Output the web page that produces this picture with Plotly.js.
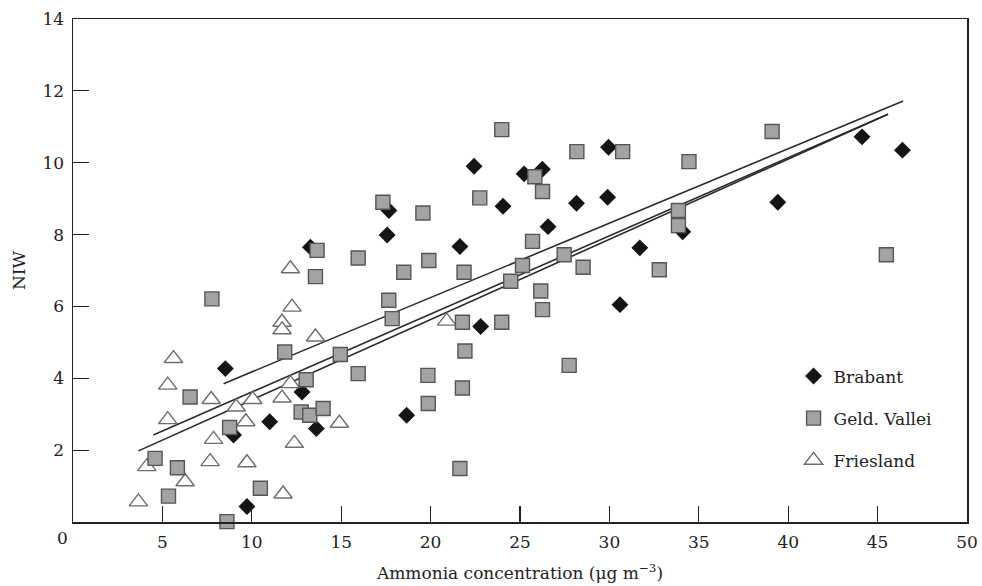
<!DOCTYPE html>
<html>
<head>
<meta charset="utf-8">
<script src="https://cdn.plot.ly/plotly-3.0.1.min.js"></script>
<style>html,body{margin:0;padding:0;background:#fff;}#chart{width:982px;height:586px;}</style>
</head>
<body>
<div id="chart"></div>
<script>
// Brabant
var brabantX = [8.52, 8.98, 9.73, 11.0, 12.81, 13.28, 13.61, 17.57, 17.67, 18.66, 21.64, 22.43, 22.8, 24.05, 25.23, 26.25, 26.57, 28.16, 29.9, 29.95, 30.59, 31.7, 34.1, 39.42, 44.13, 46.39];
var brabantY = [4.27, 2.42, 0.43, 2.79, 3.62, 7.65, 2.6, 7.99, 8.67, 2.97, 7.67, 9.9, 5.44, 8.79, 9.69, 9.82, 8.22, 8.87, 9.04, 10.43, 6.05, 7.63, 8.08, 8.9, 10.72, 10.35];
// Geld. Vallei
var geldX = [4.59, 5.34, 5.84, 6.55, 7.77, 8.61, 8.76, 10.48, 11.84, 12.76, 13.04, 13.24, 13.99, 13.65, 13.56, 14.95, 15.95, 15.95, 17.33, 17.66, 17.85, 18.5, 19.57, 19.9, 19.85, 19.87, 21.64, 21.78, 21.78, 21.87, 21.92, 22.75, 23.98, 23.98, 24.48, 25.14, 25.7, 25.83, 26.26, 26.16, 26.26, 27.47, 27.75, 28.18, 28.53, 30.74, 32.79, 33.86, 33.86, 34.45, 39.1, 45.49];
var geldY = [1.77, 0.72, 1.51, 3.48, 6.21, 0.01, 2.63, 0.94, 4.73, 3.06, 3.96, 2.97, 3.16, 7.56, 6.83, 4.66, 4.13, 7.35, 8.9, 6.17, 5.66, 6.95, 8.6, 7.28, 4.08, 3.3, 1.49, 5.56, 3.73, 6.95, 4.76, 9.02, 10.92, 5.56, 6.7, 7.14, 7.81, 9.61, 9.2, 6.43, 5.91, 7.44, 4.36, 10.31, 7.09, 10.31, 7.02, 8.67, 8.25, 10.03, 10.87, 7.44];
// Friesland
var frieslandX = [3.66, 4.13, 5.3, 5.3, 5.62, 6.27, 7.67, 7.73, 7.86, 9.13, 9.67, 9.73, 10.05, 11.69, 11.69, 11.69, 11.75, 12.16, 12.25, 12.16, 12.38, 13.56, 14.9, 20.9];
var frieslandY = [0.56, 1.54, 2.85, 3.81, 4.55, 1.12, 1.68, 3.41, 2.3, 3.2, 2.79, 1.65, 3.41, 5.56, 5.35, 3.45, 0.78, 7.05, 5.98, 3.85, 2.19, 5.15, 2.75, 5.59];
// Regression lines (end points)
var fitBrabantX = [8.42, 46.43], fitBrabantY = [3.85, 11.72];
var fitGeldX = [4.49, 45.58], fitGeldY = [2.42, 11.35];
var fitAllX = [3.66, 45.58], fitAllY = [1.98, 11.35];
// Axis ticks
var xTicks = [5, 10, 15, 20, 25, 30, 35, 40, 45, 50];
var yTicks = [2, 4, 6, 8, 10, 12, 14];
var seriesNames = ['Brabant', 'Geld. Vallei', 'Friesland'];

var FONT = 'DejaVu Serif, Liberation Serif, serif';
var lineStyle = {color: '#2a2a2a', width: 1.6};

function fitTrace(x, y) {
  return {x: x, y: y, mode: 'lines', type: 'scatter', line: lineStyle, showlegend: false, hoverinfo: 'skip', cliponaxis: false};
}

var traces = [
  fitTrace(fitBrabantX, fitBrabantY),
  fitTrace(fitGeldX, fitGeldY),
  fitTrace(fitAllX, fitAllY),
  {x: brabantX, y: brabantY, name: seriesNames[0], mode: 'markers', type: 'scatter', cliponaxis: false,
   legendgroup: 'a', legendrank: 1,
   marker: {symbol: 'diamond', size: 13, color: '#141414', line: {width: 0}}},
  {x: frieslandX, y: frieslandY, name: seriesNames[2], mode: 'markers', type: 'scatter', cliponaxis: false,
   legendgroup: 'c', legendrank: 3,
   marker: {symbol: 'triangle-up', size: 16, color: '#ffffff', line: {width: 1.4, color: '#6e6e6e'}}},
  {x: geldX, y: geldY, name: seriesNames[1], mode: 'markers', type: 'scatter', cliponaxis: false,
   legendgroup: 'b', legendrank: 2,
   marker: {symbol: 'square', size: 14, color: '#a3a3a3', line: {width: 1.4, color: '#555555'}}}
];

var layout = {
  width: 982, height: 586,
  margin: {l: 73, r: 15, t: 19, b: 64},
  paper_bgcolor: '#ffffff', plot_bgcolor: '#ffffff',
  font: {family: FONT, size: 17, color: '#222'},
  showlegend: true,
  legend: {x: 0.806, y: 0.325, xanchor: 'left', yanchor: 'top', bgcolor: 'rgba(0,0,0,0)',
           font: {family: FONT, size: 17, color: '#222'}, tracegroupgap: 17, itemsizing: 'trace'},
  xaxis: {range: [0, 50], tickmode: 'array', tickvals: xTicks, ticks: 'inside', ticklen: 16, tickwidth: 1.2, tickcolor: '#222',
          showline: true, linecolor: '#222', linewidth: 1.5, mirror: true, showgrid: false, zeroline: false,
          tickfont: {family: FONT, size: 17, color: '#222'}, ticklabelstandoff: 4,
          title: {text: 'Ammonia concentration (μg m<sup>−3</sup>)', font: {family: FONT, size: 17, color: '#222'}, standoff: 16}},
  yaxis: {range: [0, 14], tickmode: 'array', tickvals: yTicks, ticks: 'inside', ticklen: 16, tickwidth: 1.2, tickcolor: '#222',
          showline: true, linecolor: '#222', linewidth: 1.5, mirror: true, showgrid: false, zeroline: false,
          tickfont: {family: FONT, size: 17, color: '#222'}, ticklabelstandoff: 4,
          title: {text: 'NIW', font: {family: FONT, size: 17, color: '#222'}, standoff: 12}},
  annotations: [{x: 0, y: 0, xref: 'x', yref: 'y', text: '0', showarrow: false, xshift: -11, yshift: -16,
                 font: {family: FONT, size: 17, color: '#222'}}]
};

Plotly.newPlot('chart', traces, layout, {displayModeBar: false, staticPlot: true});
</script>
</body>
</html>
